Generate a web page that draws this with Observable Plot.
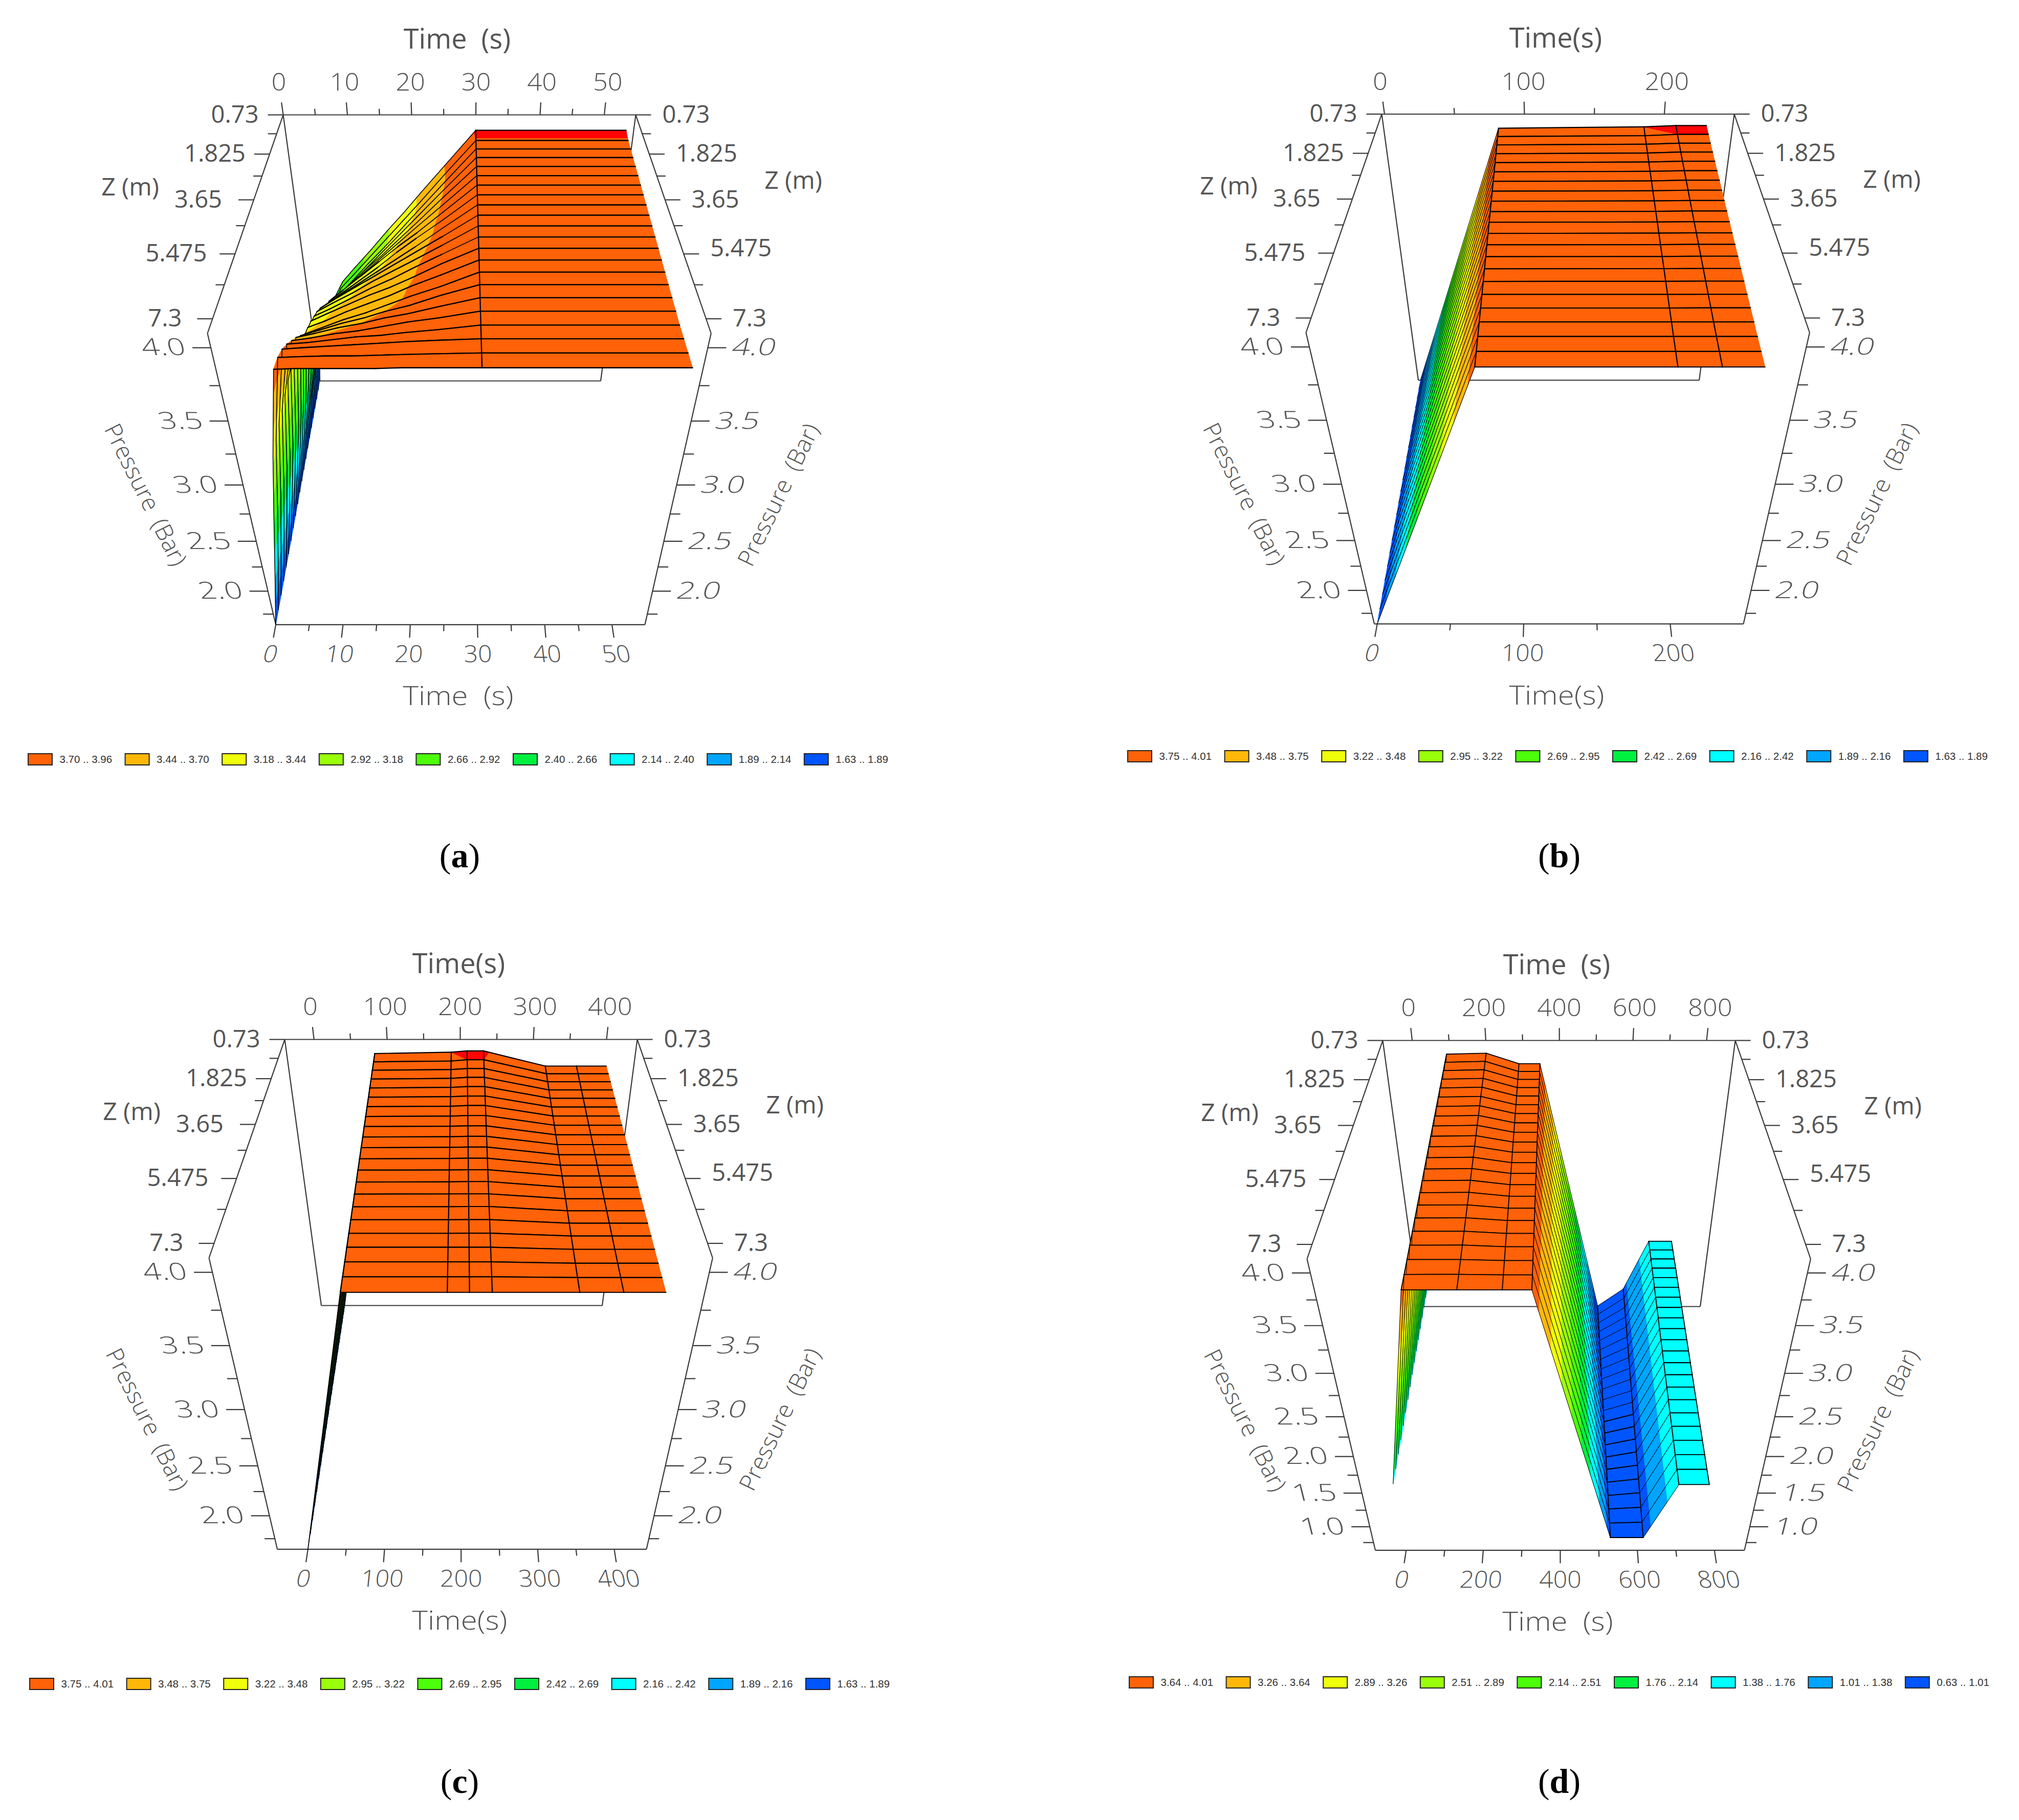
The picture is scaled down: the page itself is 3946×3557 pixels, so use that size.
<!DOCTYPE html>
<html><head><meta charset="utf-8">
<script src="https://cdn.jsdelivr.net/npm/d3@7"></script>
<script src="https://cdn.jsdelivr.net/npm/@observablehq/plot@0.6"></script>
<style>html,body{margin:0;background:#fff}svg{display:block;max-width:none!important}text{white-space:pre}</style>
</head><body><div id="chart"></div>
<script>
// depth of each surface row (m along the pipe, measured from the axis start)
const zRows=[0,.365,.73,1.095,1.46,1.825,2.19,2.555,2.92,3.285,3.65,4.015,4.38,4.745,5.11,5.475,5.84,6.205,6.57,6.935,7.3,7.665];
const zMajor=[0,1.825,3.65,5.475,7.3];
const zMajorLabels=["0.73","1.825","3.65","5.475","7.3"];
const zMinor=[.9125,2.7375,4.5625,6.3875];
const zEnd=7.665;
const bandColors=["#0055ff","#00a5ff","#00ffff","#00f040","#4cff0a","#99ff0a","#f0ff0a","#ffb80a","#ff6208"];
const topColor="#ff0505";

// panel (a): columns of time and P[row][column]
const aTimes=[0,1.5,3,4.5,6.5,9,12,15,18,21,25,30,53.7];
const aP=[
[1.63,2.32,2.40,2.50,2.68,2.82,2.98,3.15,3.31,3.48,3.70,3.975,3.975],
[1.63,2.25,2.35,2.48,2.70,2.83,2.99,3.15,3.31,3.47,3.69,3.955,3.955],
[1.63,2.20,2.33,2.48,2.72,2.85,3.01,3.16,3.32,3.48,3.69,3.950,3.950],
[1.63,2.17,2.34,2.52,2.77,2.90,3.05,3.20,3.35,3.50,3.70,3.945,3.945],
[1.63,2.14,2.38,2.62,2.85,2.97,3.11,3.24,3.38,3.52,3.71,3.940,3.940],
[1.63,2.12,2.42,2.72,2.92,3.03,3.16,3.29,3.42,3.55,3.72,3.935,3.935],
[1.63,2.10,2.44,2.80,3.00,3.10,3.22,3.34,3.46,3.57,3.73,3.930,3.930],
[1.63,2.09,2.46,2.88,3.06,3.15,3.26,3.37,3.49,3.60,3.74,3.925,3.925],
[1.63,2.08,2.48,2.95,3.12,3.21,3.31,3.41,3.51,3.61,3.75,3.920,3.920],
[1.63,2.07,2.50,3.04,3.20,3.28,3.37,3.46,3.55,3.64,3.76,3.915,3.915],
[1.63,2.07,2.52,3.10,3.26,3.33,3.41,3.50,3.58,3.66,3.77,3.910,3.910],
[1.63,2.07,2.54,3.13,3.31,3.37,3.45,3.53,3.60,3.68,3.78,3.905,3.905],
[1.63,2.07,2.55,3.16,3.36,3.42,3.49,3.56,3.62,3.69,3.79,3.900,3.900],
[1.63,2.08,2.56,3.20,3.40,3.45,3.52,3.58,3.64,3.71,3.79,3.895,3.895],
[1.63,2.09,2.58,3.23,3.44,3.49,3.55,3.60,3.66,3.72,3.79,3.890,3.890],
[1.63,2.10,2.60,3.25,3.52,3.56,3.61,3.65,3.70,3.74,3.81,3.885,3.885],
[1.63,2.11,2.62,3.26,3.60,3.63,3.67,3.70,3.74,3.77,3.82,3.880,3.880],
[1.63,2.12,2.64,3.26,3.67,3.69,3.72,3.74,3.77,3.80,3.83,3.875,3.875],
[1.63,2.13,2.66,3.25,3.74,3.75,3.77,3.79,3.80,3.82,3.84,3.870,3.870],
[1.63,2.14,2.67,3.25,3.80,3.81,3.82,3.83,3.84,3.85,3.86,3.870,3.870],
[1.63,2.15,2.68,3.24,3.84,3.845,3.85,3.85,3.855,3.86,3.865,3.870,3.870],
[1.63,2.16,2.70,3.23,3.86,3.865,3.865,3.865,3.865,3.87,3.87,3.870,3.870]];

// panels (b), (c): pressure per row at successive times
const pStart=[1.63,1.63,1.63,1.63,1.63,1.63,1.63,1.63,1.63,1.63,1.63,1.63,1.63,1.63,1.63,1.63,1.63,1.63,1.63,1.63,1.63,1.63];
const pFill=[3.985,3.979,3.974,3.968,3.963,3.957,3.952,3.946,3.941,3.935,3.930,3.924,3.919,3.913,3.908,3.902,3.897,3.891,3.886,3.880,3.875,3.870];
const pMid=[3.995,3.985,3.979,3.973,3.967,3.961,3.955,3.949,3.943,3.937,3.932,3.926,3.920,3.914,3.909,3.903,3.897,3.891,3.886,3.880,3.875,3.870];
const pPeak=[4.005,3.995,3.987,3.980,3.973,3.966,3.960,3.953,3.946,3.940,3.934,3.928,3.922,3.916,3.910,3.904,3.898,3.892,3.886,3.880,3.875,3.870];
const pLate=[3.890,3.889,3.888,3.887,3.886,3.885,3.884,3.883,3.882,3.881,3.880,3.879,3.878,3.877,3.876,3.875,3.874,3.873,3.872,3.871,3.870,3.870];
const bTimes=[0,81,186,209,231];
const cTimes=[0,81.7,187.5,209.5,232,318.5,362,403.6];

// panel (d)
const dTimes=[0,90,199,288,346,528,612,685,758];
const d0=[1.63,1.63,1.63,1.63,1.63,1.63,1.63,1.63,1.63,1.63,1.63,1.63,1.63,1.63,1.63,1.63,1.63,1.63,1.63,1.63,1.63,1.63];
const d90=[3.98,3.974,3.967,3.961,3.954,3.948,3.941,3.935,3.929,3.922,3.916,3.909,3.903,3.896,3.890,3.884,3.877,3.871,3.864,3.858,3.851,3.845];
const d199=[3.99,3.983,3.976,3.969,3.962,3.955,3.948,3.941,3.935,3.928,3.921,3.914,3.907,3.900,3.893,3.886,3.879,3.872,3.865,3.858,3.852,3.845];
const d288=[3.877,3.875,3.874,3.872,3.871,3.869,3.868,3.866,3.865,3.863,3.862,3.860,3.859,3.857,3.856,3.854,3.853,3.851,3.850,3.848,3.847,3.845];
const d346=[3.877,3.875,3.874,3.872,3.871,3.869,3.868,3.866,3.865,3.863,3.862,3.860,3.859,3.857,3.856,3.854,3.853,3.851,3.850,3.848,3.847,3.845];
const d528=[.635,.644,.654,.663,.672,.681,.691,.70,.709,.719,.728,.737,.746,.756,.765,.774,.784,.793,.802,.812,.821,.83];
const d612=[.91,.906,.902,.899,.895,.891,.887,.883,.88,.876,.872,.868,.864,.861,.857,.853,.849,.845,.842,.838,.834,.83];
const d685=[1.64,1.639,1.638,1.637,1.636,1.635,1.634,1.633,1.632,1.631,1.63,1.629,1.628,1.627,1.626,1.625,1.624,1.623,1.622,1.621,1.62,1.62];
const d758=[1.64,1.639,1.638,1.637,1.636,1.635,1.634,1.633,1.632,1.631,1.63,1.629,1.628,1.627,1.626,1.625,1.624,1.623,1.622,1.621,1.62,1.62];

// colour band limits and legend texts
const aLevels=[1.63,1.89,2.14,2.40,2.66,2.92,3.18,3.44,3.70,3.96];
const bLevels=[1.63,1.89,2.16,2.42,2.69,2.95,3.22,3.48,3.75,3.995];
const dLevels=[.63,1.01,1.38,1.76,2.14,2.51,2.89,3.26,3.64,4.03];
const aLegend=["3.70 .. 3.96","3.44 .. 3.70","3.18 .. 3.44","2.92 .. 3.18","2.66 .. 2.92","2.40 .. 2.66","2.14 .. 2.40","1.89 .. 2.14","1.63 .. 1.89"];
const bLegend=["3.75 .. 4.01","3.48 .. 3.75","3.22 .. 3.48","2.95 .. 3.22","2.69 .. 2.95","2.42 .. 2.69","2.16 .. 2.42","1.89 .. 2.16","1.63 .. 1.89"];
const dLegend=["3.64 .. 4.01","3.26 .. 3.64","2.89 .. 3.26","2.51 .. 2.89","2.14 .. 2.51","1.76 .. 2.14","1.38 .. 1.76","1.01 .. 1.38","0.63 .. 1.01"];

const transpose=cols=>cols[0].map((_,j)=>cols.map(c=>c[j]));
const panels=[
 {name:"a",ox:0,oy:0,tDom:[0,54.9],pDom:[1.63,4.09],times:aTimes,P:aP,levels:aLevels,legend:aLegend,grid:[30],
  tMajor:[0,10,20,30,40,50],tMinor:[5,15,25,35,45],pMajor:[4,3.5,3,2.5,2],pMinor:[3.75,3.25,2.75,2.25,1.75],
  title:"Time  (s)",lx:55,ly:1484,sw:2.3,ramp:1.5},
 {name:"b",ox:2147,oy:-1.5,tDom:[-2,250],pDom:[1.63,4.09],times:bTimes,P:transpose([pStart,pFill,pMid,pPeak,pPeak]),levels:bLevels,legend:bLegend,grid:[81,186,209],
  tMajor:[0,100,200],tMinor:[50,150],pMajor:[4,3.5,3,2.5,2],pMinor:[3.75,3.25,2.75,2.25,1.75],
  title:"Time(s)",lx:2204,ly:1478,sw:2.2,ramp:1.1},
 {name:"c",ox:3,oy:1807,tDom:[-40,442],pDom:[1.63,4.09],times:cTimes,P:transpose([pStart,pFill,pMid,pPeak,pPeak,pLate,pLate,pLate]),levels:bLevels,legend:bLegend,grid:[81.7,187.5,209.5,232,318.5,362],
  tMajor:[0,100,200,300,400],tMinor:[50,150,250,350],pMajor:[4,3.5,3,2.5,2],pMinor:[3.75,3.25,2.75,2.25,1.75],
  title:"Time(s)",lx:58,ly:3291,sw:2.2,ramp:1.6},
 {name:"d",ox:2149,oy:1809,tDom:[-80,878],pDom:[.625,4.125],times:dTimes,P:transpose([d0,d90,d199,d288,d346,d528,d612,d685,d758]),levels:dLevels,legend:dLegend,grid:[90,199,288,346,528,612,685,758],
  tMajor:[0,200,400,600,800],tMinor:[100,300,500,700],pMajor:[4,3.5,3,2.5,2,1.5,1],pMinor:[3.75,3.25,2.75,2.25,1.75,1.25,.75],
  title:"Time  (s)",lx:2207,ly:3288,sw:1.8,ramp:1.0}
];

// shared perspective camera of the four box plots
const cam={B:[553,224],Bp:[1242,224],A:[405,651],C:[624.5,744],bv:-.3,bw:.255};
function cube(u,v,w,pn){
  const W=1+cam.bv*v+cam.bw*w;
  const f=k=>(cam.B[k]+u*(cam.Bp[k]-cam.B[k])+v*((1+cam.bv)*cam.A[k]-cam.B[k])+w*((1+cam.bw)*cam.C[k]-cam.B[k]))/W;
  return [f(0)+pn.ox,f(1)+pn.oy];
}
const U=(pn,t)=>(t-pn.tDom[0])/(pn.tDom[1]-pn.tDom[0]);
const V=z=>z/zEnd;
const Wp=(pn,p)=>(pn.pDom[1]-p)/(pn.pDom[1]-pn.pDom[0]);
const proj=d=>cube(U(d.pn,d.t),V(d.z),Wp(d.pn,d.p),d.pn);

// split a cell at the colour limits
function clip(poly,val,above){
  const out=[];
  poly.forEach((a,i)=>{
    const b=poly[(i+1)%poly.length];
    const ain=above?a.p>=val:a.p<=val,bin=above?b.p>=val:b.p<=val;
    if(ain)out.push(a);
    if(ain!==bin){const f=(val-a.p)/(b.p-a.p);out.push({t:a.t+f*(b.t-a.t),z:a.z+f*(b.z-a.z),p:val,pn:a.pn});}
  });
  return out;
}
const verts=[];let nid=0;
function addPath(pts,fill,stroke,sw){const id=nid++;pts.forEach(q=>verts.push({...q,id,fill,stroke,sw}));}
panels.forEach(pn=>{
  const L=pn.levels;
  const bands=bandColors.map((c,i)=>({lo:i?L[i]:-9,hi:L[i+1],c})).concat([{lo:L[9],hi:99,c:topColor}]);
  const node=(j,i)=>({t:pn.times[i],z:zRows[j],p:pn.P[j][i],pn});
  const rowLine=j=>{
    for(let i=0;i<pn.times.length-1;i++){
      const steep=Math.abs(pn.P[j][i+1]-pn.P[j][i])>.12;
      addPath([node(j,i),node(j,i+1)],"none","#000",steep?pn.ramp:pn.sw);
    }
  };
  for(let j=0;j<zRows.length-1;j++){
    for(let i=0;i<pn.times.length-1;i++){
      const q=[node(j,i),node(j,i+1),node(j+1,i+1),node(j+1,i)];
      bands.forEach(b=>{
        let g=clip(clip(q,b.lo,true),b.hi,false);
        if(g.length>2)addPath([...g,g[0]],b.c,b.c,1);
      });
    }
    pn.grid.forEach(t=>{const i=pn.times.indexOf(t);addPath([node(j,i),node(j+1,i)],"none","#000",pn.sw);});
    rowLine(j);rowLine(j+1);
  }
});

// box frame and ticks
const segs=[],txt={zL:[],zR:[],pL:[],pR:[],tT:[],tB:[],title:[],titleB:[],zt:[],prL:[],prR:[],leg:[]};
const seg=(a,b,dxa=0,dya=0,dxb=0,dyb=0)=>segs.push({x1:a[0]+dxa,y1:a[1]+dya,x2:b[0]+dxb,y2:b[1]+dyb});
const zOff=[48,47,62,55,60];
panels.forEach(pn=>{
  const c=(u,v,w)=>cube(u,v,w,pn);
  [[[0,0,0],[1,0,0]],[[0,0,0],[0,1,0]],[[1,0,0],[1,1,0]],[[0,1,0],[0,1,1]],[[1,1,0],[1,1,1]],
   [[0,0,0],[0,0,1]],[[1,0,0],[1,0,1]],[[0,0,1],[1,0,1]],[[0,1,1],[1,1,1]]].forEach(([a,b])=>seg(c(...a),c(...b)));
  // depth ticks
  zMajor.forEach((z,i)=>{
    const l=c(0,V(z),0),r=c(1,V(z),0);
    seg(l,l,0,0,-30,0);seg(r,r,0,0,30,0);
    txt.zL.push({x:l[0]-zOff[i],y:l[1],text:zMajorLabels[i]});
    txt.zR.push({x:r[0]+52,y:r[1]+(i==3?-10:0),text:zMajorLabels[i]});
  });
  zMinor.forEach(z=>{const l=c(0,V(z),0),r=c(1,V(z),0);seg(l,l,0,0,-17,0);seg(r,r,0,0,17,0);});
  // pressure ticks
  pn.pMajor.forEach(p=>{
    const w=Wp(pn,p),l=c(0,1,w),r=c(1,1,w);
    seg(l,l,0,0,-36,0);seg(r,r,0,0,36,0);
    txt.pL.push({x:l[0]-50,y:l[1],text:p.toFixed(1)});
    txt.pR.push({x:r[0]+48,y:r[1],text:p.toFixed(1)});
  });
  pn.pMinor.forEach(p=>{const w=Wp(pn,p),l=c(0,1,w),r=c(1,1,w);seg(l,l,0,0,-20,0);seg(r,r,0,0,20,0);});
  // time ticks
  pn.tMajor.forEach(t=>{
    const u=U(pn,t);
    seg(c(u,0,0),c(u,0,-.037));seg(c(u,1,1),c(u,1.04,1));
    const a=c(u,0,-.094),b=c(u,1.09,1);
    txt.tT.push({x:a[0],y:a[1],text:String(t)});
    txt.tB.push({x:b[0],y:b[1],text:String(t)});
  });
  pn.tMinor.forEach(t=>{const u=U(pn,t);seg(c(u,0,0),c(u,0,-.018));seg(c(u,1,1),c(u,1.02,1));});
  // axis titles
  txt.title.push({x:893+pn.ox,y:77+pn.oy,text:pn.title});
  txt.titleB.push({x:895+pn.ox,y:1361+pn.oy,text:pn.title});
  txt.zt.push({x:254+pn.ox,y:366+pn.oy,text:"Z (m)"},{x:1550+pn.ox,y:353+pn.oy,text:"Z (m)"});
  txt.prL.push({x:283+pn.ox,y:967+pn.oy,text:"Pressure  (Bar)"});
  txt.prR.push({x:1522+pn.ox,y:967+pn.oy,text:"Pressure  (Bar)"});
  // legend
  pn.legend.forEach((s,i)=>txt.leg.push({x:pn.lx+i*189.6,y:pn.ly,text:s,fill:bandColors[8-i]}));
});
const captions=[{x:898,y:1673,text:"(a)"},{x:3047,y:1673,text:"(b)"},{x:898,y:3482,text:"(c)"},{x:3047,y:3482,text:"(d)"}];

const font="Open Sans",ink="#555";
const T=(data,o)=>Plot.text(data,{x:"x",y:"y",text:"text",fontFamily:font,fill:ink,fontSize:46,...o});
const svg=Plot.plot({
  width:3946,height:3557,margin:0,
  x:{domain:[0,3946],range:[0,3946],axis:null},
  y:{domain:[0,3557],range:[0,3557],axis:null},
  color:{type:"identity"},
  style:{background:"#fff"},
  marks:[
    Plot.link(segs,{x1:"x1",y1:"y1",x2:"x2",y2:"y2",stroke:"#3a3a3a",strokeWidth:2.2}),
    Plot.line(verts,{x:d=>proj(d)[0],y:d=>proj(d)[1],z:"id",fill:"fill",stroke:"stroke",strokeWidth:"sw",strokeLinejoin:"round",strokeLinecap:"round",curve:"linear"}),
    T(txt.zL,{textAnchor:"end",fontSize:47}),
    T(txt.zR,{textAnchor:"start",fontSize:47}),
    T(txt.pL,{textAnchor:"end",className:"skL",fontWeight:300}),
    T(txt.pR,{textAnchor:"start",className:"skR",fontWeight:300}),
    T(txt.tT,{textAnchor:"middle",fontWeight:300,className:"wideT"}),
    T(txt.tB,{textAnchor:"middle",className:"skB",fontWeight:300}),
    T(txt.title,{fontSize:54}),
    T(txt.titleB,{fontSize:52,fontWeight:300,className:"wide"}),
    T(txt.zt,{fontSize:48}),
    T(txt.prL,{fontSize:46,rotate:63.5,fontWeight:300}),
    T(txt.prR,{fontSize:46,rotate:-64,fontWeight:300}),
    Plot.rect(txt.leg,{x1:d=>d.x,x2:d=>d.x+47,y1:d=>d.y-11,y2:d=>d.y+11,fill:"fill",stroke:"#222",strokeWidth:2}),
    Plot.text(txt.leg,{x:d=>d.x+61,y:"y",text:"text",textAnchor:"start",fontFamily:"Liberation Sans",fontSize:20.5,fill:"#333"}),
    Plot.text(captions,{x:"x",y:"y",text:"text",fontFamily:"Liberation Serif",fontSize:68,fill:"#000",className:"cap"})
  ]
});
const warp=(cls,fn)=>svg.querySelectorAll(`g.${cls} text`).forEach(el=>{
  const t=el.getAttribute("transform")||"";
  const x=+(t.match(/translate\(([-\d.]+)/)||[0,0])[1];
  el.setAttribute("transform",t+" "+fn(x));
});
warp("skL",()=>"skewX(14) scale(1.35,1)");
warp("skR",()=>"skewX(-14) scale(1.35,1)");
warp("skB",x=>{const c=x<2000?895:3042;return `skewX(${14*(x-c)/360}) scale(1.05,1)`;});
warp("wide",()=>"scale(1.12,1)");
warp("wideT",()=>"scale(1.1,1.05)");
svg.querySelectorAll("g.cap text").forEach(el=>{
  const m=el.textContent.match(/\((.)\)/);
  el.textContent="(";
  const b=document.createElementNS("http://www.w3.org/2000/svg","tspan");
  b.setAttribute("font-weight","bold");b.textContent=m[1];
  el.appendChild(b);el.appendChild(document.createTextNode(")"));
});
document.getElementById("chart").appendChild(svg);
</script></body></html>
